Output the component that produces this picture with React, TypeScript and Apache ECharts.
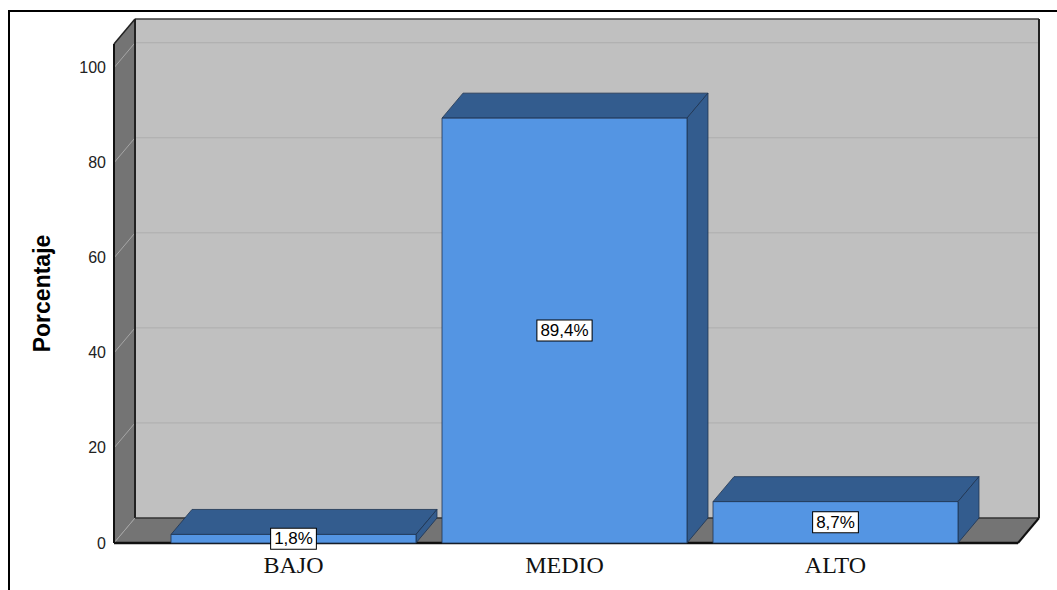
import React, { useEffect, useRef } from "react";
import * as echarts from "echarts";

const categories = ["BAJO", "MEDIO", "ALTO"];
const percentages = [1.8, 89.4, 8.7];
const valueLabels = ["1,8%", "89,4%", "8,7%"];
const gridValues = [0, 20, 40, 60, 80, 100];
const yAxisMax = 105;

const DX = 21;
const DY = -25;
const FRAME_PAD_L = 44;
const FRAME_PAD_R = 47;

export default function App() {
  const ref = useRef<HTMLDivElement>(null);
  useEffect(() => {
    const chart = echarts.init(ref.current as HTMLDivElement, null, { renderer: "svg" });

    const frameRender = (params: any, api: any) => {
      const cs = params.coordSys;
      const fl = cs.x - FRAME_PAD_L;
      const fr = cs.x + cs.width + FRAME_PAD_R;
      const yZero = api.coord([0, 0])[1];
      const yTop = cs.y;
      const children: any[] = [];
      children.push({
        type: "rect",
        shape: { x: fl + DX, y: yTop + DY, width: fr - fl, height: yZero - yTop },
        style: { fill: "#c0c0c0" },
      });
      children.push({
        type: "polygon",
        shape: { points: [[fl, yTop], [fl + DX, yTop + DY], [fl + DX, yZero + DY], [fl, yZero]] },
        style: { fill: "#747474" },
      });
      children.push({
        type: "polygon",
        shape: { points: [[fl, yZero], [fr, yZero], [fr + DX, yZero + DY], [fl + DX, yZero + DY]] },
        style: { fill: "#747474" },
      });
      gridValues.forEach((v) => {
        const y = api.coord([0, v])[1];
        if (v > 0) {
          children.push({
            type: "line",
            shape: { x1: fl + DX, y1: y + DY, x2: fr + DX, y2: y + DY },
            style: { stroke: "#adadad", lineWidth: 1 },
          });
        }
        children.push({
          type: "line",
          shape: { x1: fl, y1: y, x2: fl + DX, y2: y + DY },
          style: { stroke: "#a6a6a6", lineWidth: 1 },
        });
      });
      const edge = (x1: number, y1: number, x2: number, y2: number, c: string, w: number) =>
        children.push({ type: "line", shape: { x1, y1, x2, y2 }, style: { stroke: c, lineWidth: w } });
      edge(fl + DX, yTop + DY, fr + DX, yTop + DY, "#3a3a3a", 1.5);
      edge(fr + DX, yTop + DY, fr + DX, yZero + DY, "#222", 2);
      edge(fl + DX, yTop + DY, fl + DX, yZero + DY, "#222", 2);
      edge(fl + DX, yZero + DY, fr + DX, yZero + DY, "#333", 1.5);
      edge(fl, yTop, fl + DX, yTop + DY, "#222", 1.5);
      edge(fr, yZero, fr + DX, yZero + DY, "#111", 2);
      edge(fl, yTop, fl, yZero, "#111", 2);
      edge(fl, yZero, fr, yZero, "#111", 2.5);
      return { type: "group", children };
    };

    const barRender = (params: any, api: any) => {
      const idx = api.value(0);
      const val = api.value(1);
      const top = api.coord([idx, val]);
      const base = api.coord([idx, 0]);
      const band = api.size([1, 0])[0];
      const w = band * 0.904;
      const x0 = top[0] - w / 2;
      const x1 = top[0] + w / 2;
      const yT = top[1];
      const yB = base[1];
      const edgeC = "#1e3350";
      return {
        type: "group",
        children: [
          {
            type: "polygon",
            shape: { points: [[x0, yT], [x1, yT], [x1 + DX, yT + DY], [x0 + DX, yT + DY]] },
            style: { fill: "#335c8e", stroke: edgeC, lineWidth: 0.8 },
          },
          {
            type: "polygon",
            shape: { points: [[x1, yT], [x1 + DX, yT + DY], [x1 + DX, yB + DY], [x1, yB]] },
            style: { fill: "#335c8e", stroke: edgeC, lineWidth: 0.8 },
          },
          {
            type: "rect",
            shape: { x: x0, y: yT, width: w, height: yB - yT },
            style: { fill: "#5495e3", stroke: edgeC, lineWidth: 0.8 },
          },
          {
            type: "text",
            x: (x0 + x1) / 2,
            y: (yT + yB) / 2,
            style: {
              text: valueLabels[params.dataIndex],
              fill: "#000",
              fontFamily: "Liberation Sans",
              fontSize: 17,
              align: "center",
              verticalAlign: "middle",
              backgroundColor: "#fff",
              borderColor: "#000",
              borderWidth: 1,
              padding: [2, 3, 1, 3],
            },
          },
        ],
      };
    };

    chart.setOption({
      animation: false,
      backgroundColor: "#ffffff",
      grid: { left: 158, right: 86, top: 44, bottom: 47 },
      graphic: [
        {
          type: "polyline",
          shape: { points: [[9, 590], [9, 11], [1057, 11]] },
          style: { stroke: "#000", lineWidth: 2, fill: null },
          z: 100,
        },
      ],
      xAxis: {
        type: "category",
        data: categories,
        axisLine: { show: false },
        axisTick: { show: false },
        splitLine: { show: false },
        axisLabel: { fontFamily: "Liberation Serif", fontSize: 24, color: "#111", margin: 10 },
      },
      yAxis: {
        type: "value",
        min: 0,
        max: yAxisMax,
        interval: 20,
        offset: FRAME_PAD_L,
        axisLine: { show: false },
        axisTick: { show: false },
        splitLine: { show: false },
        axisLabel: {
          formatter: (v: number) => (v % 20 === 0 ? String(v) : ""),
          fontFamily: "Liberation Sans",
          fontSize: 16,
          color: "#222",
          margin: 8,
        },
        name: "Porcentaje",
        nameLocation: "middle",
        nameGap: 61,
        nameTextStyle: { fontFamily: "Liberation Sans", fontWeight: "bold", fontSize: 23, color: "#000" },
      },
      series: [
        { type: "custom", data: [[0, 0]], renderItem: frameRender, silent: true, clip: false },
        {
          type: "custom",
          data: percentages.map((v, i) => [i, v]),
          encode: { x: 0, y: 1 },
          renderItem: barRender,
          clip: false,
        },
      ],
    });
    return () => chart.dispose();
  }, []);
  return <div ref={ref} style={{ position: "fixed", left: 0, top: 0, width: 1057, height: 590 }} />;
}
